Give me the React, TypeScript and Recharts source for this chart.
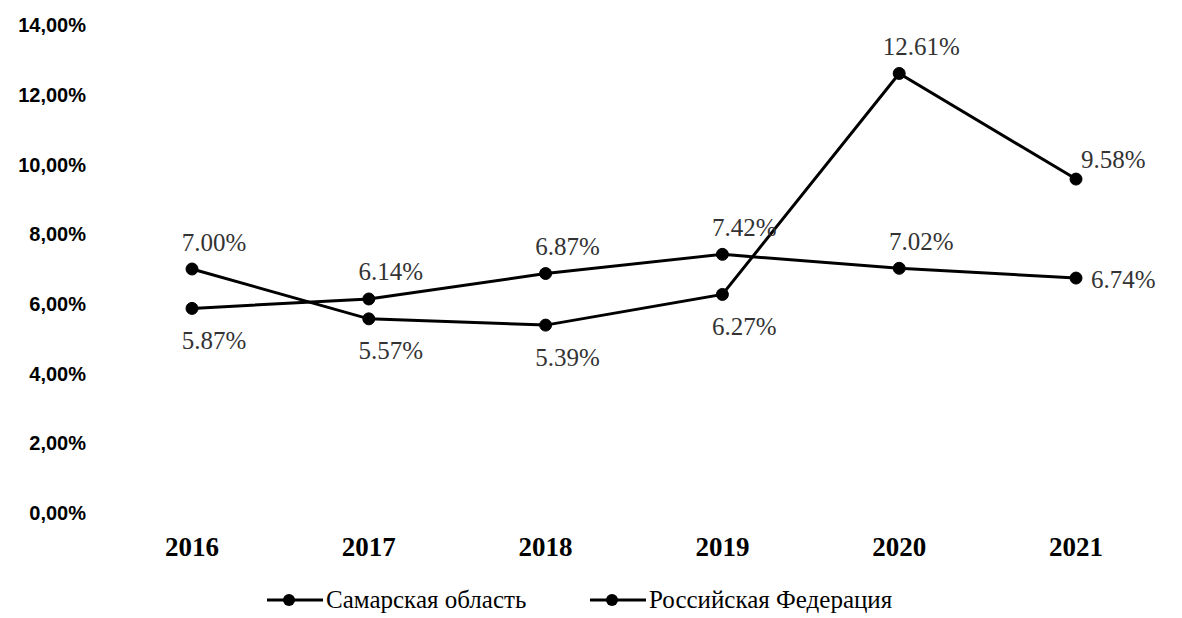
import { LineChart, Line, XAxis, YAxis, LabelList } from "recharts";

const years = ["2016", "2017", "2018", "2019", "2020", "2021"];
const samara = [7.0, 5.57, 5.39, 6.27, 12.61, 9.58];
const russia = [5.87, 6.14, 6.87, 7.42, 7.02, 6.74];
const yTicks = [0, 2, 4, 6, 8, 10, 12, 14];

// where each value label sits relative to its point
const samaraLabelPos = ["top", "bottom", "bottom", "bottom", "top", "topRight"];
const russiaLabelPos = ["bottom", "top", "top", "top", "top", "right"];

const SERIES = [
  { key: "samara", name: "Самарская область" },
  { key: "russia", name: "Российская Федерация" },
];

const data = years.map((year, i) => ({ year, samara: samara[i], russia: russia[i] }));

const SERIF = '"Liberation Serif", "Times New Roman", serif';

function fmtPct(v: number) {
  return v.toFixed(2) + "%";
}

function makeLabel(positions: string[]) {
  return (props: any) => {
    const x = Number(props.x ?? 0);
    const y = Number(props.y ?? 0);
    const pos = positions[props.index] ?? "top";
    let tx = x + 22;
    let ty = y - 27;
    let anchor: "middle" | "start" = "middle";
    if (pos === "bottom") ty = y + 32;
    if (pos === "right") {
      tx = x + 15;
      ty = y + 1;
      anchor = "start";
    }
    if (pos === "topRight") {
      tx = x + 5;
      ty = y - 20;
      anchor = "start";
    }
    return (
      <text
        x={tx}
        y={ty}
        textAnchor={anchor}
        dominantBaseline="central"
        fontFamily={SERIF}
        fontSize={25}
        fill="#333"
      >
        {fmtPct(Number(props.value))}
      </text>
    );
  };
}

function LegendMarker() {
  return (
    <svg width={56} height={14} style={{ display: "block" }}>
      <line x1={0} y1={7} x2={56} y2={7} stroke="#000" strokeWidth={3} />
      <circle cx={22} cy={7} r={6} fill="#000" />
    </svg>
  );
}

function ChartLegend() {
  const lefts = [267, 590];
  return (
    <div style={{ position: "absolute", left: 0, top: 586, height: 30, width: 1182 }}>
      {SERIES.map((s, i) => (
        <div
          key={s.key}
          style={{
            position: "absolute",
            left: lefts[i],
            top: 0,
            display: "flex",
            alignItems: "center",
            fontFamily: SERIF,
            fontSize: 25,
            color: "#000",
            whiteSpace: "nowrap",
          }}
        >
          <LegendMarker />
          <span style={{ marginLeft: 3 }}>{s.name}</span>
        </div>
      ))}
    </div>
  );
}

export default function App() {
  return (
    <div style={{ position: "absolute", left: 0, top: 0, width: 1182, height: 618, background: "#fff" }}>
      <LineChart
        width={1182}
        height={618}
        data={data}
        margin={{ top: 25, right: 18, bottom: 65, left: 0 }}
      >
        <XAxis
          dataKey="year"
          axisLine={false}
          tickLine={false}
          tickSize={0}
          tickMargin={24}
          height={40}
          padding={{ left: 88, right: 88 }}
          tick={{ fontFamily: SERIF, fontSize: 27, fontWeight: "bold", fill: "#000" }}
        />
        <YAxis
          domain={[0, 14]}
          ticks={yTicks}
          width={104}
          axisLine={false}
          tickLine={false}
          tickSize={0}
          tickMargin={18}
          tickFormatter={(v: number) => v.toFixed(2).replace(".", ",") + "%"}
          tick={{ fontFamily: '"Liberation Sans", Arial, sans-serif', fontSize: 20, fontWeight: "bold", fill: "#000" }}
        />
        <Line
          dataKey="samara"
          name={SERIES[0].name}
          stroke="#000"
          strokeWidth={3}
          dot={{ r: 6, fill: "#000", stroke: "#000", strokeWidth: 1 }}
          activeDot={false}
          isAnimationActive={false}
        >
          <LabelList dataKey="samara" content={makeLabel(samaraLabelPos)} />
        </Line>
        <Line
          dataKey="russia"
          name={SERIES[1].name}
          stroke="#000"
          strokeWidth={3}
          dot={{ r: 6, fill: "#000", stroke: "#000", strokeWidth: 1 }}
          activeDot={false}
          isAnimationActive={false}
        >
          <LabelList dataKey="russia" content={makeLabel(russiaLabelPos)} />
        </Line>
      </LineChart>
      <ChartLegend />
    </div>
  );
}
